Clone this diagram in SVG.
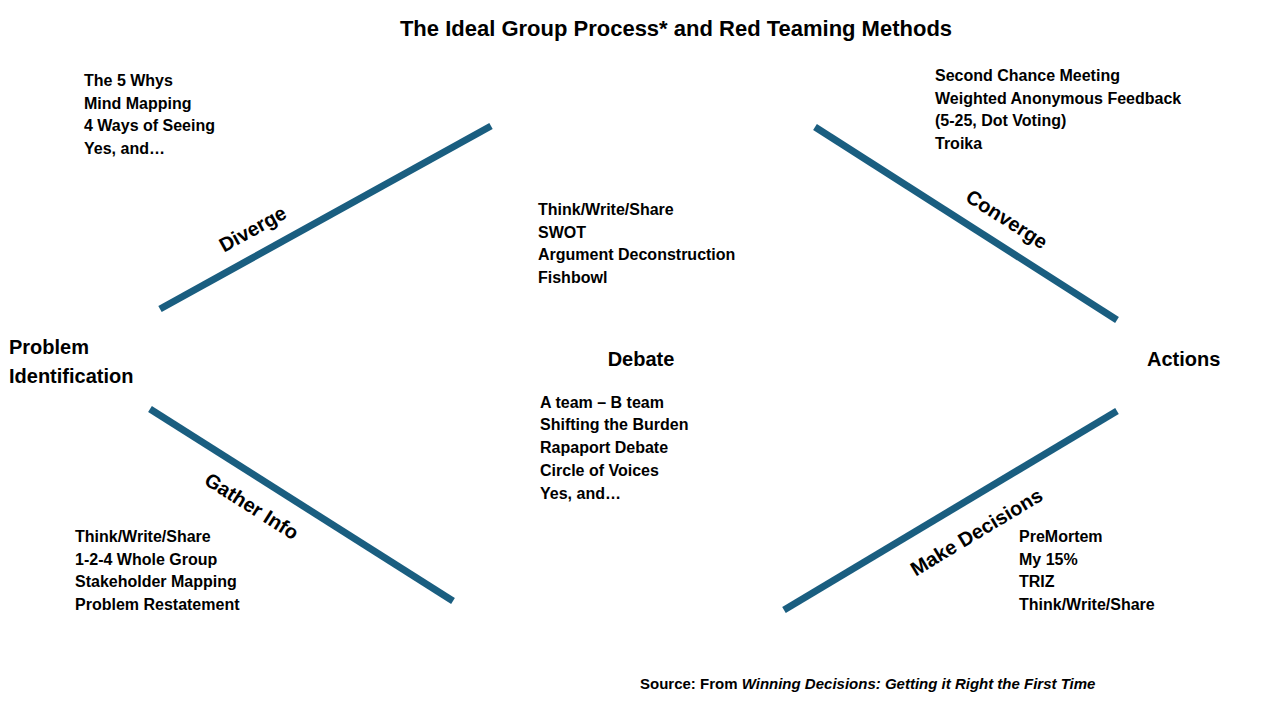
<svg xmlns="http://www.w3.org/2000/svg" width="1280" height="720" viewBox="0 0 1280 720">
<style>
text{font-family:"Liberation Sans",Arial,sans-serif;font-weight:bold;fill:#000}
.l{font-size:16px}
.h{font-size:20px}
.s{stroke:#1a5e80;stroke-width:7;fill:none}
</style>
<rect width="1280" height="720" fill="#fff"/>
<text x="676" y="36" font-size="22" text-anchor="middle">The Ideal Group Process* and Red Teaming Methods</text>
<g id="connectors">
<line class="s" x1="160" y1="309" x2="491" y2="126"/>
<line class="s" x1="815" y1="127" x2="1117" y2="320"/>
<line class="s" x1="150" y1="409" x2="453" y2="601"/>
<line class="s" x1="784" y1="610" x2="1117" y2="411"/>
</g>
<g id="labels">
<text class="h" transform="translate(256,235) rotate(-29)" text-anchor="middle">Diverge</text>
<text class="h" transform="translate(1003,225) rotate(32.6)" text-anchor="middle">Converge</text>
<text class="h" transform="translate(248,512) rotate(32.4)" text-anchor="middle">Gather Info</text>
<text class="h" transform="translate(980,538) rotate(-31)" text-anchor="middle">Make Decisions</text>
</g>
<g id="problem"><text class="h" x="9" y="354">Problem</text><text class="h" x="9" y="383">Identification</text></g>
<g id="debate"><text class="h" x="641" y="366" text-anchor="middle">Debate</text></g>
<g id="actions"><text class="h" x="1147" y="366">Actions</text></g>
<g id="list-diverge" class="l"><text class="l" x="84" y="86">The 5 Whys</text><text class="l" x="84" y="109">Mind Mapping</text><text class="l" x="84" y="131">4 Ways of Seeing</text><text class="l" x="84" y="154">Yes, and…</text></g>
<g id="list-converge"><text class="l" x="935" y="81">Second Chance Meeting</text><text class="l" x="935" y="104">Weighted Anonymous Feedback</text><text class="l" x="935" y="126">(5-25, Dot Voting)</text><text class="l" x="935" y="149">Troika</text></g>
<g id="list-mid-top"><text class="l" x="538" y="215">Think/Write/Share</text><text class="l" x="538" y="238">SWOT</text><text class="l" x="538" y="260">Argument Deconstruction</text><text class="l" x="538" y="283">Fishbowl</text></g>
<g id="list-mid-bottom"><text class="l" x="540" y="408">A team – B team</text><text class="l" x="540" y="430">Shifting the Burden</text><text class="l" x="540" y="453">Rapaport Debate</text><text class="l" x="540" y="476">Circle of Voices</text><text class="l" x="540" y="499">Yes, and…</text></g>
<g id="list-gather"><text class="l" x="75" y="542">Think/Write/Share</text><text class="l" x="75" y="565">1-2-4 Whole Group</text><text class="l" x="75" y="587">Stakeholder Mapping</text><text class="l" x="75" y="610">Problem Restatement</text></g>
<g id="list-decide"><text class="l" x="1019" y="542">PreMortem</text><text class="l" x="1019" y="565">My 15%</text><text class="l" x="1019" y="587">TRIZ</text><text class="l" x="1019" y="610">Think/Write/Share</text></g>
<text x="640" y="689" font-size="15">Source: From <tspan font-style="italic">Winning Decisions: Getting it Right the First Time</tspan></text>
</svg>
